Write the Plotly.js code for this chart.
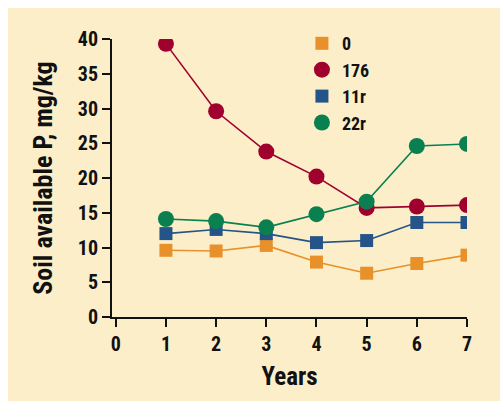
<!DOCTYPE html>
<html>
<head>
<meta charset="utf-8">
<script src="https://cdn.plot.ly/plotly-3.0.1.min.js"></script>
<style>
html, body { margin: 0; padding: 0; background: #ffffff; }
#chart { position: absolute; left: 8px; top: 8px; width: 492px; height: 393px; }
</style>
</head>
<body>
<div id="chart"></div>
<script>
const years = [1, 2, 3, 4, 5, 6, 7];
const seriesNames = ["0", "176", "11r", "22r"];
const values0 = [9.6, 9.5, 10.3, 7.9, 6.3, 7.7, 8.9];
const values176 = [39.3, 29.6, 23.8, 20.2, 15.7, 15.9, 16.1];
const values11r = [12.0, 12.6, 12.0, 10.7, 11.0, 13.6, 13.6];
const values22r = [14.1, 13.8, 12.9, 14.8, 16.6, 24.6, 24.9];
const xTickVals = [0, 1, 2, 3, 4, 5, 6, 7];
const yTickVals = [0, 5, 10, 15, 20, 25, 30, 35, 40];

const colors = ["#E8912A", "#A0002E", "#245488", "#0A8050"];
const symbols = ["square", "circle", "square", "circle"];
const sizes = [13, 16, 13, 16];
const allValues = [values0, values176, values11r, values22r];

const FONT = "Roboto Condensed, Roboto, sans-serif";

const traces = allValues.map((vals, i) => ({
  x: years,
  y: vals,
  name: seriesNames[i],
  type: "scatter",
  mode: "lines+markers",
  line: { color: colors[i], width: 1.6 },
  marker: { color: colors[i], symbol: symbols[i], size: sizes[i], line: { width: 0 } },
  showlegend: false
}));
const legendTraces = allValues.map((vals, i) => ({
  x: [null],
  y: [null],
  name: seriesNames[i],
  type: "scatter",
  mode: "markers",
  marker: { color: colors[i], symbol: symbols[i], size: sizes[i] },
  showlegend: true
}));

const layout = {
  width: 492,
  height: 393,
  paper_bgcolor: "#FCEEC9",
  plot_bgcolor: "rgba(0,0,0,0)",
  margin: { l: 104, r: 33, t: 31, b: 84 },
  font: { family: FONT, color: "#111111", weight: "bold" },
  showlegend: true,
  legend: {
    x: 0.535, y: 1.05, xanchor: "left", yanchor: "top",
    bgcolor: "rgba(0,0,0,0)",
    font: { family: FONT, size: 18, color: "#111111", weight: "bold" },
    itemwidth: 30,
    tracegroupgap: 0
  },
  xaxis: {
    range: [-0.075, 7],
    tickvals: xTickVals,
    ticktext: xTickVals.map(String),
    ticks: "outside", ticklen: 8, tickwidth: 2, tickcolor: "#111111",
    showline: true, linecolor: "#111111", linewidth: 2,
    showgrid: false, zeroline: false,
    tickfont: { family: FONT, size: 20, color: "#111111", weight: "bold" },
    title: { text: "Years", font: { family: FONT, size: 25, color: "#111111", weight: "bold" }, standoff: 12 }
  },
  yaxis: {
    range: [0, 40],
    tickvals: yTickVals,
    ticktext: yTickVals.map(String),
    ticks: "outside", ticklen: 8, tickwidth: 2, tickcolor: "#111111",
    showline: true, linecolor: "#111111", linewidth: 2,
    showgrid: false, zeroline: false,
    tickfont: { family: FONT, size: 20, color: "#111111", weight: "bold" },
    title: { text: "Soil available P, mg/kg", font: { family: FONT, size: 26, color: "#111111", weight: "bold" }, standoff: 18 }
  }
};

Plotly.newPlot("chart", traces.concat(legendTraces), layout, { displayModeBar: false, staticPlot: true });
</script>
</body>
</html>
